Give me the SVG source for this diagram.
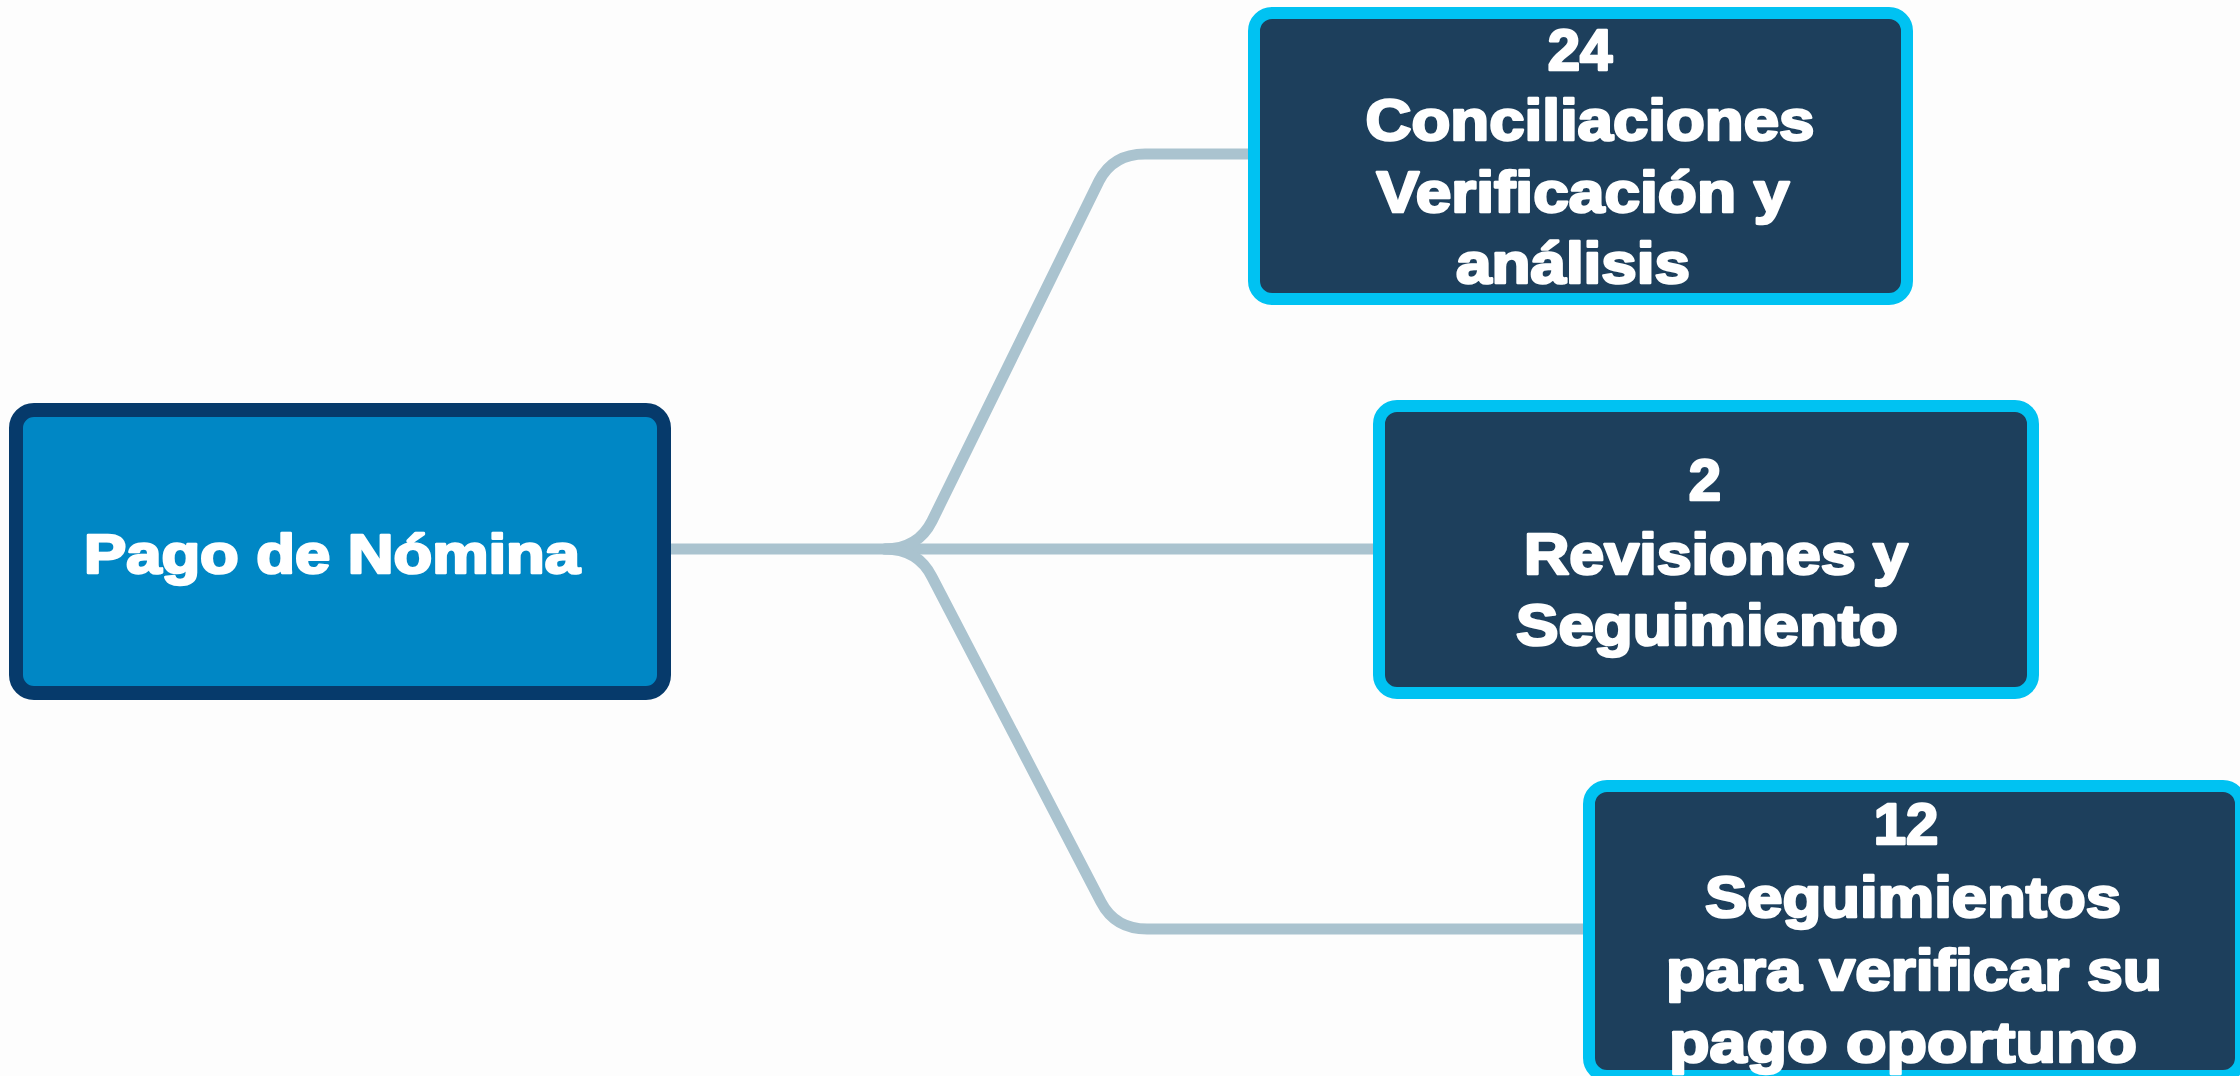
<svg xmlns="http://www.w3.org/2000/svg" width="2240" height="1076" viewBox="0 0 2240 1076">
<style>
.bg{fill:#fdfdfd}
.conn{fill:none;stroke:#aac3cf;stroke-width:11;stroke-linecap:round;stroke-linejoin:round}
.root{fill:#0087c5;stroke:#063a6b;stroke-width:14}
.leaf{fill:#1d3f5c;stroke:#00c2f2;stroke-width:12}
.t{font-family:"Liberation Sans",Arial,sans-serif;font-weight:bold;font-size:58px;fill:#ffffff;stroke:#ffffff;stroke-width:2.6;stroke-linejoin:round;text-anchor:middle}
.tr{font-size:56px}
</style>
<rect class="bg" x="0" y="0" width="2240" height="1076"/>
<g id="connectors">
<path class="conn" d="M 671 549 H 1373"/>
<path class="conn" d="M 885 549 Q 918 549 932 521 L 1099 181 Q 1113 154 1145 154 H 1250"/>
<path class="conn" d="M 885 549 Q 918 549 932 577 L 1101 902 Q 1115 929 1147 929 H 1585"/>
</g>
<g id="node-root">
<rect class="root" x="16" y="410" width="648" height="283" rx="18"/>
<text class="t tr" x="332" y="573" textLength="496" lengthAdjust="spacingAndGlyphs">Pago de Nómina</text>
</g>
<g id="node-conciliaciones">
<rect class="leaf" x="1254" y="13" width="653" height="286" rx="18"/>
<text class="t" x="1580" y="70">24</text>
<text class="t" x="1590" y="140" textLength="449" lengthAdjust="spacingAndGlyphs">Conciliaciones</text>
<text class="t" x="1583" y="212" textLength="413" lengthAdjust="spacingAndGlyphs">Verificación y</text>
<text class="t" x="1573" y="283" textLength="234" lengthAdjust="spacingAndGlyphs">análisis</text>
</g>
<g id="node-revisiones">
<rect class="leaf" x="1379" y="406" width="654" height="287" rx="18"/>
<text class="t" x="1705" y="500">2</text>
<text class="t" x="1716" y="574" textLength="384" lengthAdjust="spacingAndGlyphs">Revisiones y</text>
<text class="t" x="1707" y="645" textLength="382" lengthAdjust="spacingAndGlyphs">Seguimiento</text>
</g>
<g id="node-seguimientos">
<rect class="leaf" x="1589" y="786" width="652" height="290" rx="18"/>
<text class="t" x="1906" y="844">12</text>
<text class="t" x="1913" y="917" textLength="416" lengthAdjust="spacingAndGlyphs">Seguimientos</text>
<text class="t" x="1914" y="990" textLength="496" lengthAdjust="spacingAndGlyphs">para verificar su</text>
<text class="t" x="1903" y="1062" textLength="468" lengthAdjust="spacingAndGlyphs">pago oportuno</text>
</g>
</svg>
